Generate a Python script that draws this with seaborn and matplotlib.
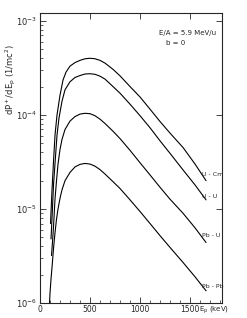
import math

import matplotlib
matplotlib.use("Agg")
import matplotlib.pyplot as plt
import matplotlib.ticker as mticker
import pandas as pd
import seaborn as sns

# positron energy (keV) and spectrum values
e_ucm = [105, 120, 135, 150, 170, 200, 230, 260, 300, 350, 400, 450, 500, 550, 600, 650,
         730, 800, 900, 1000, 1100, 1200, 1300, 1430, 1550, 1660]
p_ucm = [7e-6, 1.6e-5, 3.2e-5, 6.1e-5, 1.0e-4, 1.62e-4, 2.35e-4, 2.85e-4, 3.3e-4, 3.6e-4,
         3.8e-4, 3.95e-4, 4.0e-4, 3.95e-4, 3.8e-4, 3.55e-4, 3.05e-4, 2.6e-4, 2.0e-4, 1.55e-4,
         1.15e-4, 8.5e-5, 6.4e-5, 4.5e-5, 3.0e-5, 2.0e-5]

e_uu = [110, 120, 135, 150, 170, 190, 220, 250, 300, 350, 400, 450, 500, 550, 600, 650,
        730, 800, 900, 1000, 1100, 1200, 1300, 1430, 1550, 1660]
p_uu = [4.8e-6, 8e-6, 1.8e-5, 3.05e-5, 6.1e-5, 9.3e-5, 1.4e-4, 1.85e-4, 2.25e-4, 2.5e-4,
        2.62e-4, 2.72e-4, 2.74e-4, 2.7e-4, 2.58e-4, 2.4e-4, 2.0e-4, 1.7e-4, 1.3e-4, 9.8e-5,
        7.3e-5, 5.3e-5, 3.9e-5, 2.6e-5, 1.8e-5, 1.25e-5]

e_pbu = [115, 125, 135, 150, 165, 180, 200, 220, 250, 300, 350, 400, 450, 500, 550, 600,
         650, 730, 800, 900, 1000, 1100, 1200, 1300, 1430, 1550, 1660]
p_pbu = [3.2e-6, 4.5e-6, 6.5e-6, 1.28e-5, 2.0e-5, 3.0e-5, 4.3e-5, 5.5e-5, 7.0e-5, 8.6e-5,
         9.6e-5, 1.02e-4, 1.04e-4, 1.03e-4, 9.8e-5, 9.0e-5, 8.1e-5, 6.7e-5, 5.6e-5, 4.2e-5,
         3.1e-5, 2.3e-5, 1.7e-5, 1.27e-5, 9.0e-6, 6.3e-6, 4.4e-6]

e_pbpb = [95, 100, 110, 120, 135, 150, 165, 180, 200, 220, 250, 300, 350, 400, 450, 500,
          550, 600, 650, 730, 800, 900, 1000, 1100, 1200, 1300, 1430, 1550, 1660]
p_pbpb = [1.0e-6, 1.28e-6, 1.8e-6, 2.4e-6, 3.8e-6, 5.6e-6, 7.8e-6, 1.0e-5, 1.3e-5, 1.6e-5,
          2.0e-5, 2.45e-5, 2.8e-5, 2.98e-5, 3.05e-5, 3.0e-5, 2.85e-5, 2.62e-5, 2.35e-5,
          1.95e-5, 1.65e-5, 1.25e-5, 9.4e-6, 7.0e-6, 5.2e-6, 3.9e-6, 2.7e-6, 1.9e-6, 1.35e-6]

systems = ["U - Cm", "U - U", "Pb - U", "Pb - Pb"]
label_pos = [(1620, 2.3e-5), (1620, 1.35e-5), (1620, 5.2e-6), (1620, 1.5e-6)]

x_ticks = [0, 500, 1000, 1500]

frames = []
for name, e, p in zip(systems, [e_ucm, e_uu, e_pbu, e_pbpb], [p_ucm, p_uu, p_pbu, p_pbpb]):
    frames.append(pd.DataFrame({"E": e, "P": p, "system": name}))
df = pd.concat(frames, ignore_index=True)

sns.set_style("ticks")
plt.rcParams["font.family"] = ["DejaVu Sans"]
plt.rcParams["mathtext.default"] = "regular"

fig = plt.figure(figsize=(2.47, 3.18), dpi=100)
ax = fig.add_axes([0.162, 0.047, 0.737, 0.912])

sns.lineplot(data=df, x="E", y="P", hue="system", palette=["black"] * 4,
             linewidth=0.8, legend=False, ax=ax, sort=False)

ax.set_yscale("log")
ax.set_xlim(0, 1820)
ax.set_ylim(1e-6, 1.21e-3)
ax.set_xticks(x_ticks)
ax.xaxis.set_minor_locator(mticker.MultipleLocator(100))
ax.yaxis.set_major_locator(mticker.LogLocator(base=10))
ax.yaxis.set_minor_locator(mticker.LogLocator(base=10, subs=range(2, 10)))
ax.yaxis.set_major_formatter(mticker.FuncFormatter(lambda v, _: r"$10^{%d}$" % round(math.log10(v))))
ax.yaxis.set_minor_formatter(mticker.NullFormatter())

ax.tick_params(which="major", direction="in", length=4, width=0.6, top=True, right=True,
               labelsize=6, pad=2)
ax.tick_params(axis="x", which="major", labelsize=5.5, pad=1.5)
ax.tick_params(which="minor", direction="in", length=2, width=0.5, top=False, right=False)
for s in ax.spines.values():
    s.set_linewidth(0.8)

# x label sits on the tick-label row, right of 1500
ax.text(1.04, -0.006, "E$_p$ (keV)", transform=ax.transAxes, fontsize=5,
        ha="right", va="top")
ax.set_xlabel("")
ax.set_ylabel("dP$^+$/dE$_p$ (1/mc$^2$)", fontsize=6)
ax.yaxis.set_label_coords(-0.12, 0.77)

for name, (x, y) in zip(systems, label_pos):
    ax.text(x, y, name, fontsize=4.5, ha="left", va="center")

ax.text(0.655, 0.93, "E/A = 5.9 MeV/u", transform=ax.transAxes, fontsize=5, ha="left", va="center")
ax.text(0.69, 0.895, "b = 0", transform=ax.transAxes, fontsize=5, ha="left", va="center")

fig.savefig("out.png", dpi=100)
